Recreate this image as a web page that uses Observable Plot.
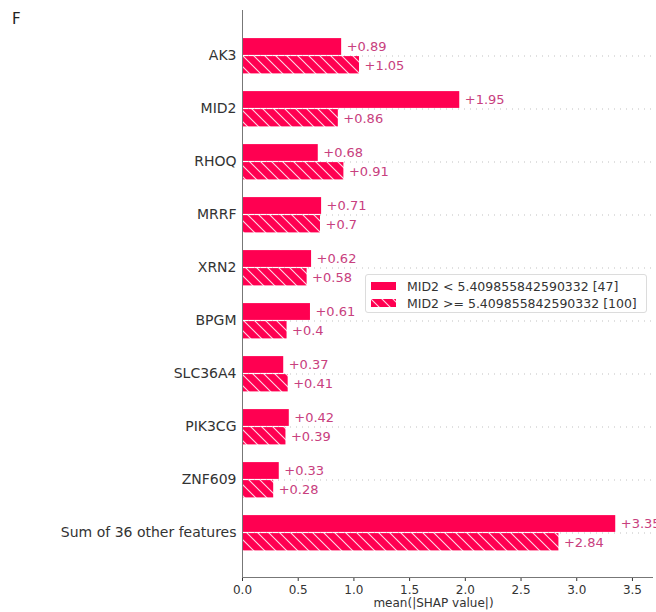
<!DOCTYPE html>
<html>
<head>
<meta charset="utf-8">
<script src="https://cdn.jsdelivr.net/npm/d3@7"></script>
<script src="https://cdn.jsdelivr.net/npm/@observablehq/plot@0.6"></script>
<style>
  html, body { margin: 0; padding: 0; background: #fff; }
  #wrap { position: relative; width: 656px; height: 612px; overflow: hidden; font-family: "DejaVu Sans", sans-serif; }
  #panel { position: absolute; left: 12px; top: 10px; font-size: 15px; color: #222; }
  #legend { position: absolute; left: 365px; top: 274px; width: 280px; height: 37px; border: 1px solid #dcdcdc; border-radius: 3px; background: rgba(255,255,255,0.85); font-size: 12.5px; color: #333; }
  .row { position: absolute; left: 0; height: 16px; display: flex; align-items: center; white-space: nowrap; }
  .row svg { margin-left: 5px; margin-right: 11px; }
</style>
</head>
<body>
<div id="wrap">
  <div id="chart"></div>
  <div id="panel">F</div>
  <div id="legend"></div>
</div>
<script>
const features = ["AK3", "MID2", "RHOQ", "MRRF", "XRN2", "BPGM", "SLC36A4", "PIK3CG", "ZNF609", "Sum of 36 other features"];
const lowValues = [0.89, 1.95, 0.68, 0.71, 0.62, 0.61, 0.37, 0.42, 0.33, 3.35];
const highValues = [1.05, 0.86, 0.91, 0.70, 0.58, 0.40, 0.41, 0.39, 0.28, 2.84];
const groupLabels = ["MID2 < 5.409855842590332 [47]", "MID2 >= 5.409855842590332 [100]"];
const xTicks = [0, 0.5, 1, 1.5, 2, 2.5, 3, 3.5];
const xLabel = "mean(|SHAP value|)";

const RED = "#ff0051";
const TEXT_RED = "#c8407e";

const low = features.map((f, i) => ({feature: f, value: lowValues[i]}));
const high = features.map((f, i) => ({feature: f, value: highValues[i]}));
const fmt = v => "+" + d3.format(".2~f")(v);

const chart = Plot.plot({
  width: 656,
  height: 612,
  marginLeft: 242,
  marginRight: 4,
  marginTop: 10,
  marginBottom: 35,
  style: {fontFamily: "DejaVu Sans, sans-serif", fontSize: "12px", color: "#333", background: "white"},
  x: {domain: [0, 3.68], ticks: xTicks, tickFormat: d3.format(".1f"), tickSize: 4, tickPadding: 4, label: null},
  y: {domain: features, paddingInner: 0, paddingOuter: 0.33, tickSize: 0, tickPadding: 6, label: null},
  marks: [
    Plot.ruleY(features, {y: d => d, stroke: "#999", strokeWidth: 0.6, strokeDasharray: "1,5"}),
    Plot.barX(low, {y: "feature", x: "value", fill: RED, insetTop: 9.1, insetBottom: 27.1}),
    Plot.barX(high, {y: "feature", x: "value", fill: "url(#hatchPat)", insetTop: 27.1, insetBottom: 8.6}),
    Plot.text(low, {y: "feature", x: "value", text: d => fmt(d.value), dx: 5, dy: -9, textAnchor: "start", fill: TEXT_RED, fontSize: 13}),
    Plot.text(high, {y: "feature", x: "value", text: d => fmt(d.value), dx: 5, dy: 9.5, textAnchor: "start", fill: TEXT_RED, fontSize: 13}),
    Plot.ruleX([0], {stroke: "#777", strokeWidth: 1}),
    Plot.frame({anchor: "bottom", stroke: "#777", strokeWidth: 1}),
    Plot.text([xLabel], {frameAnchor: "bottom", dx: -14, dy: 29, fontSize: 12, fill: "#333"})
  ]
});

// larger y tick labels, like the reference
d3.select(chart).selectAll("g[aria-label='y-axis tick label'] text, g[aria-label='y-axis'] text").style("font-size", "14px");

const defs = d3.select(chart).insert("defs", ":first-child");
function addPattern(sel, id) {
  const p = sel.append("pattern").attr("id", id).attr("patternUnits", "userSpaceOnUse")
    .attr("width", 11).attr("height", 11);
  p.append("rect").attr("width", 11).attr("height", 11).attr("fill", RED);
  p.append("path").attr("d", "M-3,-3L14,14M-3,8L3,14M8,-3L14,3")
    .attr("stroke", "#ffffff").attr("stroke-opacity", 0.85).attr("stroke-width", 1.1);
}
addPattern(defs, "hatchPat");
document.getElementById("chart").appendChild(chart);

const legend = d3.select("#legend");
groupLabels.forEach((lab, i) => {
  const row = legend.append("div").attr("class", "row").style("top", (3 + i * 17) + "px");
  const s = row.append("svg").attr("width", 25).attr("height", 8);
  if (i === 0) {
    s.append("rect").attr("width", 25).attr("height", 8).attr("fill", RED);
  } else {
    const d = s.append("defs");
    addPattern(d, "hatchLeg");
    s.append("rect").attr("width", 25).attr("height", 8).attr("fill", "url(#hatchLeg)");
  }
  row.append("span").text(lab);
});
</script>
</body>
</html>
